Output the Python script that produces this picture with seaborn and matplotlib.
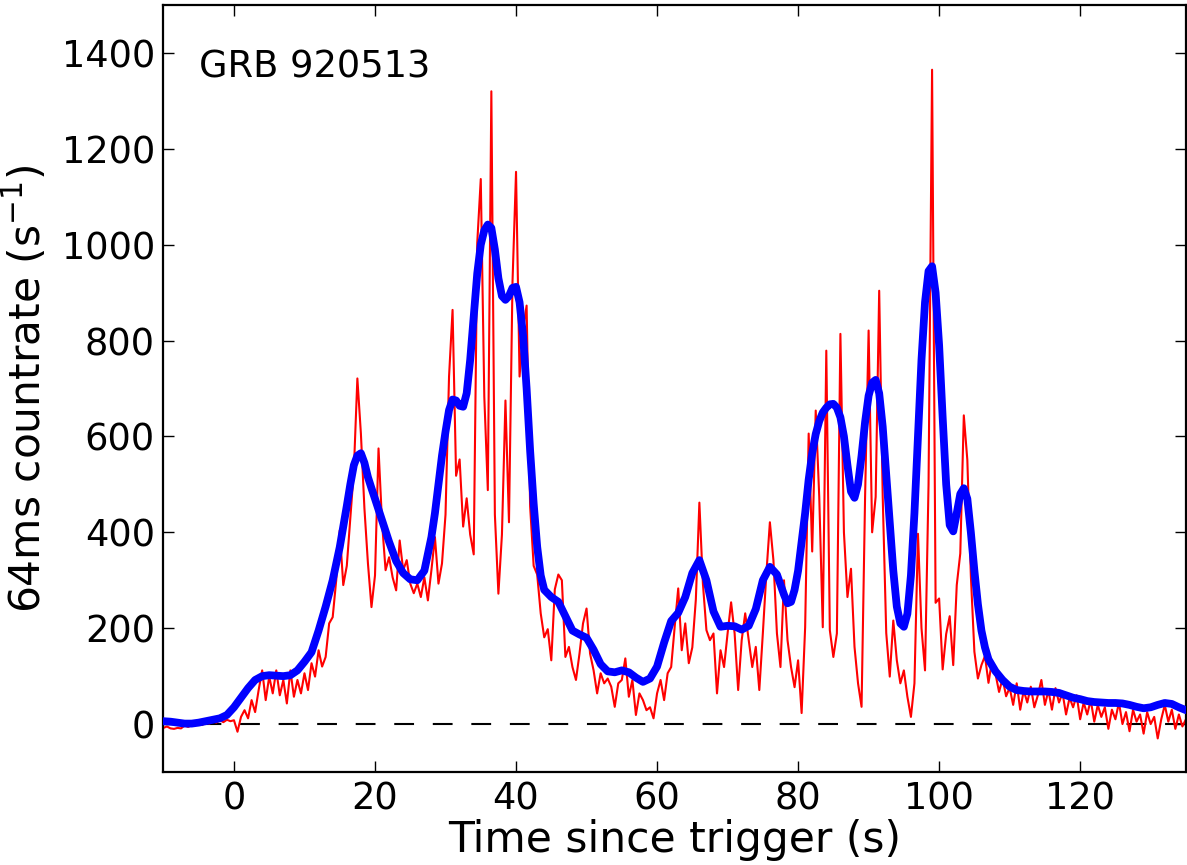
import numpy as np
import matplotlib
matplotlib.use('Agg')
from matplotlib import pyplot as plt
import seaborn as sns

# 64ms light curve of GRB 920513 (red) and its smoothed version (blue)
# red: on a 0.5 s grid from -10 s to 135 s
red_t = np.arange(-10, 135.01, 0.5)
red_counts = [
    # -10 .. -0.5
    -8, -5, -9, -10, -8, -9, -3, -6, -2, 0, 3, -2, 4, 1, 6, 3, 8, 4, 9, 6,
    # 0 .. 9.5
    8, -16, 15, 29, 12, 50, 25, 71, 112, 50, 99, 64, 112, 60, 92, 43, 112, 57, 92, 64,
    # 10 .. 19.5
    106, 71, 127, 99, 154, 120, 140, 210, 223, 300, 404, 290, 330, 430, 529, 721, 606, 450, 335, 244,
    # 20 .. 29.5
    310, 575, 420, 321, 348, 306, 279, 383, 321, 342, 293, 273, 293, 265, 306, 258, 321, 390, 293, 335,
    # 30 .. 39.5
    437, 725, 864, 518, 552, 412, 471, 395, 354, 1004, 1137, 683, 488, 1320, 437, 272, 395, 675, 421, 922,
    # 40 .. 49.5
    1152, 725, 823, 873, 454, 330, 312, 231, 181, 198, 133, 281, 312, 300, 140, 161, 119, 92, 147, 210,
    # 50 .. 59.5
    241, 147, 112, 64, 106, 85, 95, 78, 36, 85, 92, 137, 57, 92, 19, 64, 50, 29, 35, 12,
    # 60 .. 69.5
    64, 92, 50, 106, 119, 203, 283, 154, 210, 127, 160, 260, 462, 293, 196, 175, 189, 64, 154, 119,
    # 70 .. 79.5
    189, 254, 189, 71, 175, 231, 175, 119, 161, 71, 189, 314, 421, 342, 189, 119, 300, 175, 119, 77,
    # 80 .. 89.5
    133, 23, 202, 606, 360, 654, 474, 202, 779, 196, 140, 189, 814, 400, 265, 324, 161, 85, 36, 474,
    # 90 .. 99.5
    821, 400, 474, 904, 474, 190, 99, 216, 133, 85, 112, 57, 15, 85, 397, 200, 112, 500, 1365, 253,
    # 100 .. 109.5
    262, 114, 188, 225, 123, 290, 356, 644, 551, 309, 151, 95, 123, 142, 86, 132, 104, 67, 95, 58,
    # 110 .. 119.5
    76, 40, 85, 30, 70, 45, 78, 35, 60, 92, 40, 70, 30, 75, 45, 65, 20, 55, 35, 60,
    # 120 .. 135
    10, 45, 20, 50, 5, 40, 15, 35, -10, 30, 10, 45, 0, 25, -15, 30, 5, 20, -20, 25,
    0, 15, -30, 10, 40, 5, 30, -10, 20, -5, 10,
]

# blue: smoothed curve, read every 1 s (every 0.5 s around the sharp peaks)
blue_t = np.concatenate([
    np.arange(-10, 16, 1.0), np.arange(16, 20, 0.5), np.arange(20, 28, 1.0),
    np.arange(28, 44.5, 0.5), np.arange(45, 78, 1.0), np.arange(78, 107.5, 0.5),
    np.arange(108, 136, 1.0),
])
blue_counts = [
    # -10 .. 15
    6, 5, 3, 1, 1, 3, 6, 9, 12, 19, 35, 55, 75, 92, 100, 102, 101, 100, 102, 112,
    130, 150, 195, 245, 300, 369,
    # 16 .. 19.5
    455, 500, 540, 560, 565, 545, 515, 492,
    # 20 .. 27
    470, 425, 380, 340, 315, 302, 300, 320,
    # 28 .. 44
    390, 440, 500, 560, 610, 655, 677, 675, 664, 662, 690, 760, 850, 940, 1000, 1030,
    1042, 1035, 990, 930, 893, 885, 893, 910, 912, 880, 810, 700, 570, 460, 370, 310, 280,
    # 45 .. 77
    265, 255, 225, 195, 187, 180, 155, 125, 110, 108, 112, 108, 97, 88, 95, 120,
    170, 215, 232, 265, 315, 342, 300, 235, 203, 205, 204, 197, 205, 240, 300, 328, 312,
    # 78 .. 107
    270, 252, 255, 280, 320, 380, 440, 510, 565, 605, 632, 650, 660, 667, 668, 660,
    640, 600, 540, 485, 472, 500, 560, 630, 685, 712, 718, 690, 620, 520, 420, 320,
    245, 210, 203, 230, 310, 440, 600, 760, 880, 945, 955, 900, 790, 640, 500, 415,
    402, 440, 480, 492, 470, 400, 320, 250, 195, 160, 135,
    # 108 .. 135
    110, 92, 78, 71, 69, 68, 68, 68, 67, 65, 60, 55, 52, 48, 46, 45, 44, 44, 43, 40,
    36, 33, 35, 40, 44, 42, 35, 29,
]

label_grb = 'GRB 920513'

sns.set_style('white')
plt.rcParams['font.family'] = ['DejaVu Sans']
plt.rcParams['mathtext.fontset'] = 'dejavusans'
plt.rcParams['text.color'] = 'black'
plt.rcParams['axes.labelcolor'] = 'black'
plt.rcParams['xtick.color'] = 'black'
plt.rcParams['ytick.color'] = 'black'
plt.rcParams['xtick.direction'] = 'in'
plt.rcParams['ytick.direction'] = 'in'

fig = plt.figure(figsize=(11.87, 8.65), dpi=100)
ax = fig.add_axes([0.1377, 0.1075, 0.8614, 0.8867])

ax.axhline(0, color='k', lw=1.5, ls=(0, (9.5, 9)), zorder=1)
sns.lineplot(x=red_t, y=red_counts, color='#ff0000', lw=1.5, ax=ax, zorder=2)
sns.lineplot(x=blue_t, y=blue_counts, color='#0000ff', lw=5.6, ax=ax, zorder=3,
             solid_joinstyle='round', solid_capstyle='round')

ax.set_xlim(-10, 135)
ax.set_ylim(-100, 1500)
ax.set_xticks([0, 20, 40, 60, 80, 100, 120])
ax.set_yticks([0, 200, 400, 600, 800, 1000, 1200, 1400])
ax.tick_params(which='major', direction='in', length=8, width=1, labelsize=26.5,
               top=True, right=True, bottom=True, left=True, pad=6,
               color='k', labelcolor='k')
for s in ax.spines.values():
    s.set_linewidth(1.6)
    s.set_color('k')

ax.set_xlabel('Time since trigger (s)', fontsize=30.5, labelpad=1, color='k')
ax.set_ylabel(r'64ms countrate (s$^{-1}$)', fontsize=30.5, labelpad=9, color='k')
ax.text(0.035, 0.905, label_grb, transform=ax.transAxes, fontsize=26.5,
        va='baseline', color='k')

fig.savefig('out.png', dpi=100, facecolor='white')
